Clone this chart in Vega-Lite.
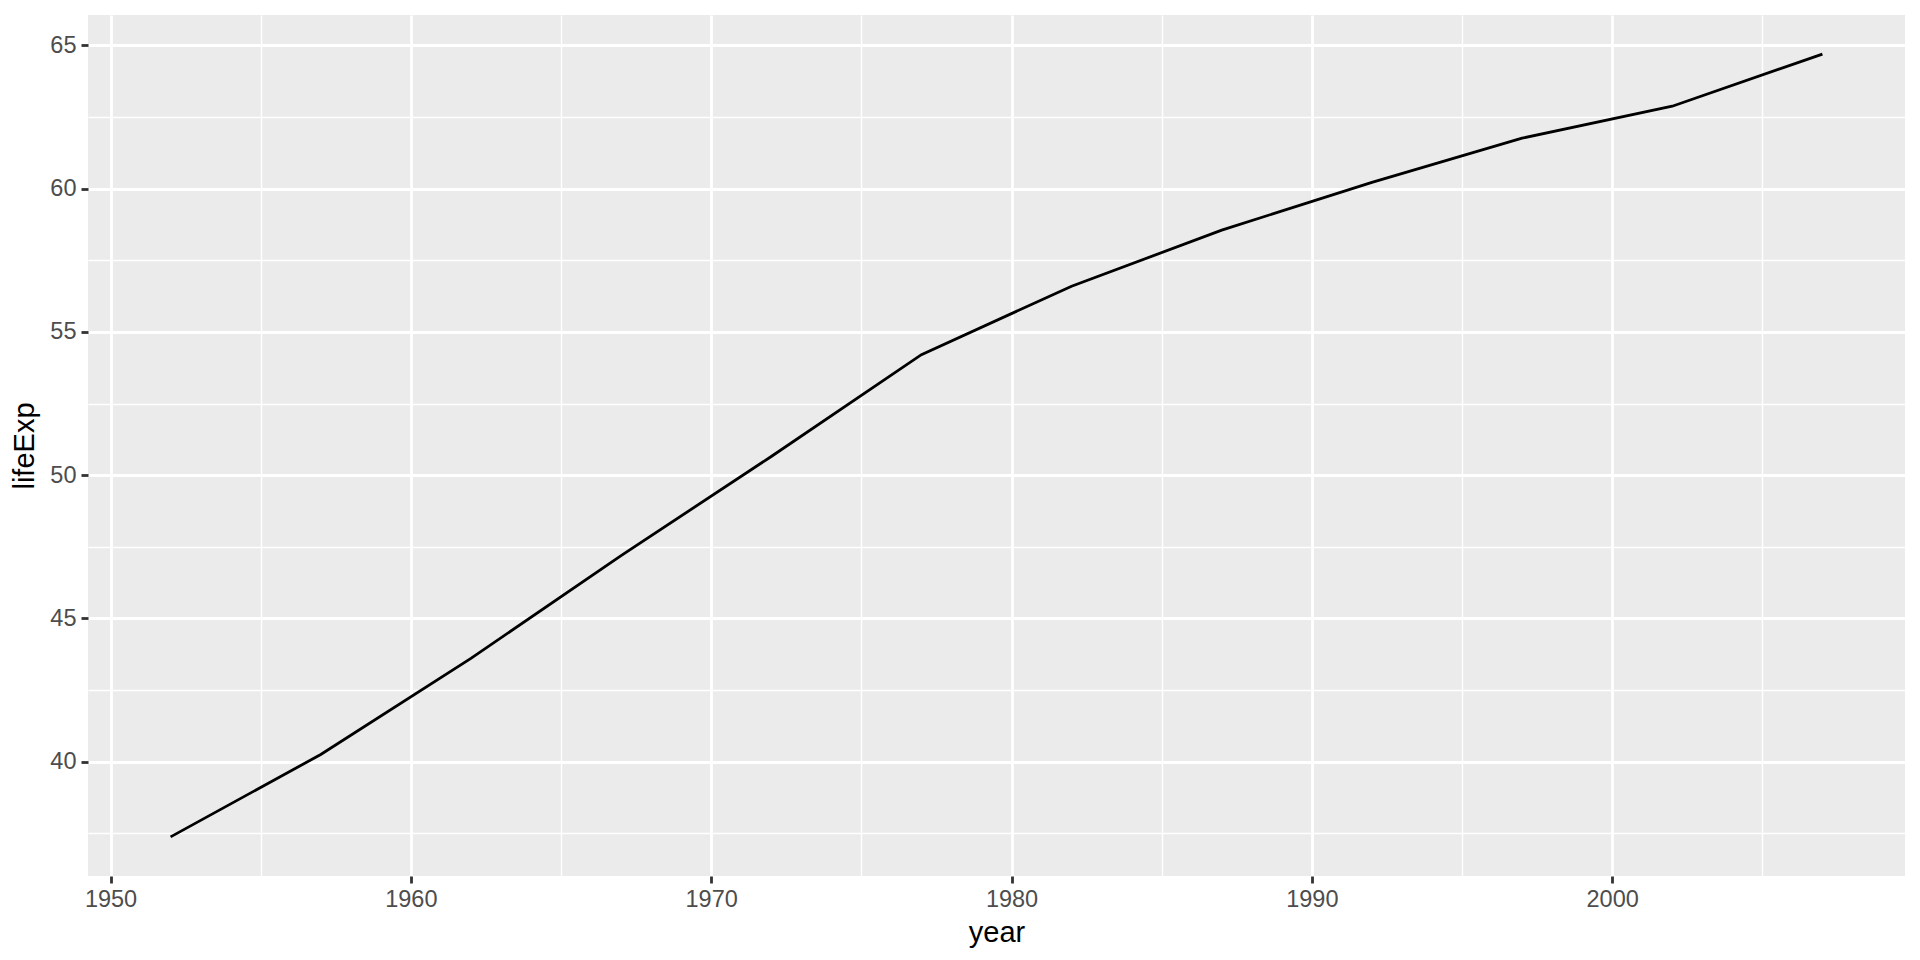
{
  "$schema": "https://vega.github.io/schema/vega-lite/v6.json",
  "autosize": "none",
  "width": 1817,
  "height": 861,
  "padding": {"left": 88, "top": 15, "right": 15, "bottom": 84},
  "background": "white",
  "config": {
    "view": {"fill": "#EBEBEB", "stroke": null},
    "font": "Liberation Sans",
    "axis": {
      "domain": false,
      "grid": true,
      "gridColor": "white",
      "tickColor": "#333333",
      "tickSize": 7,
      "labelColor": "#4D4D4D",
      "labelFontSize": 23.5,
      "labelFont": "Liberation Sans",
      "titleFont": "Liberation Sans",
      "titleFontSize": 29,
      "titleFontWeight": "normal",
      "titleColor": "black"
    }
  },
  "data": {
    "values": [
      {"year": 1952, "lifeExp": 37.373},
      {"year": 1957, "lifeExp": 40.249},
      {"year": 1962, "lifeExp": 43.605},
      {"year": 1967, "lifeExp": 47.193},
      {"year": 1972, "lifeExp": 50.651},
      {"year": 1977, "lifeExp": 54.208},
      {"year": 1982, "lifeExp": 56.596},
      {"year": 1987, "lifeExp": 58.553},
      {"year": 1992, "lifeExp": 60.223},
      {"year": 1997, "lifeExp": 61.765},
      {"year": 2002, "lifeExp": 62.879},
      {"year": 2007, "lifeExp": 64.698}
    ]
  },
  "mark": {"type": "line", "color": "black", "strokeWidth": 2.8},
  "encoding": {
    "x": {
      "field": "year",
      "type": "quantitative",
      "scale": {"domain": [1949.25, 2009.75], "nice": false, "zero": false},
      "axis": {
        "title": "year",
        "values": [1950, 1955, 1960, 1965, 1970, 1975, 1980, 1985, 1990, 1995, 2000, 2005],
        "format": "d",
        "labelExpr": "datum.value % 10 === 0 ? datum.label : ''",
        "labelPadding": 4,
        "titlePadding": 8,
        "gridWidth": {"condition": {"test": "datum.value % 10 !== 0", "value": 1.4}, "value": 2.8},
        "tickWidth": {"condition": {"test": "datum.value % 10 !== 0", "value": 0}, "value": 2.8}
      }
    },
    "y": {
      "field": "lifeExp",
      "type": "quantitative",
      "scale": {"domain": [36.00675, 66.06425], "nice": false, "zero": false},
      "axis": {
        "title": "lifeExp",
        "values": [37.5, 40, 42.5, 45, 47.5, 50, 52.5, 55, 57.5, 60, 62.5, 65],
        "labelExpr": "datum.value % 5 === 0 ? format(datum.value, 'd') : ''",
        "labelPadding": 5,
        "titlePadding": 10,
        "gridWidth": {"condition": {"test": "datum.value % 5 !== 0", "value": 1.4}, "value": 2.8},
        "tickWidth": {"condition": {"test": "datum.value % 5 !== 0", "value": 0}, "value": 2.8}
      }
    }
  }
}
